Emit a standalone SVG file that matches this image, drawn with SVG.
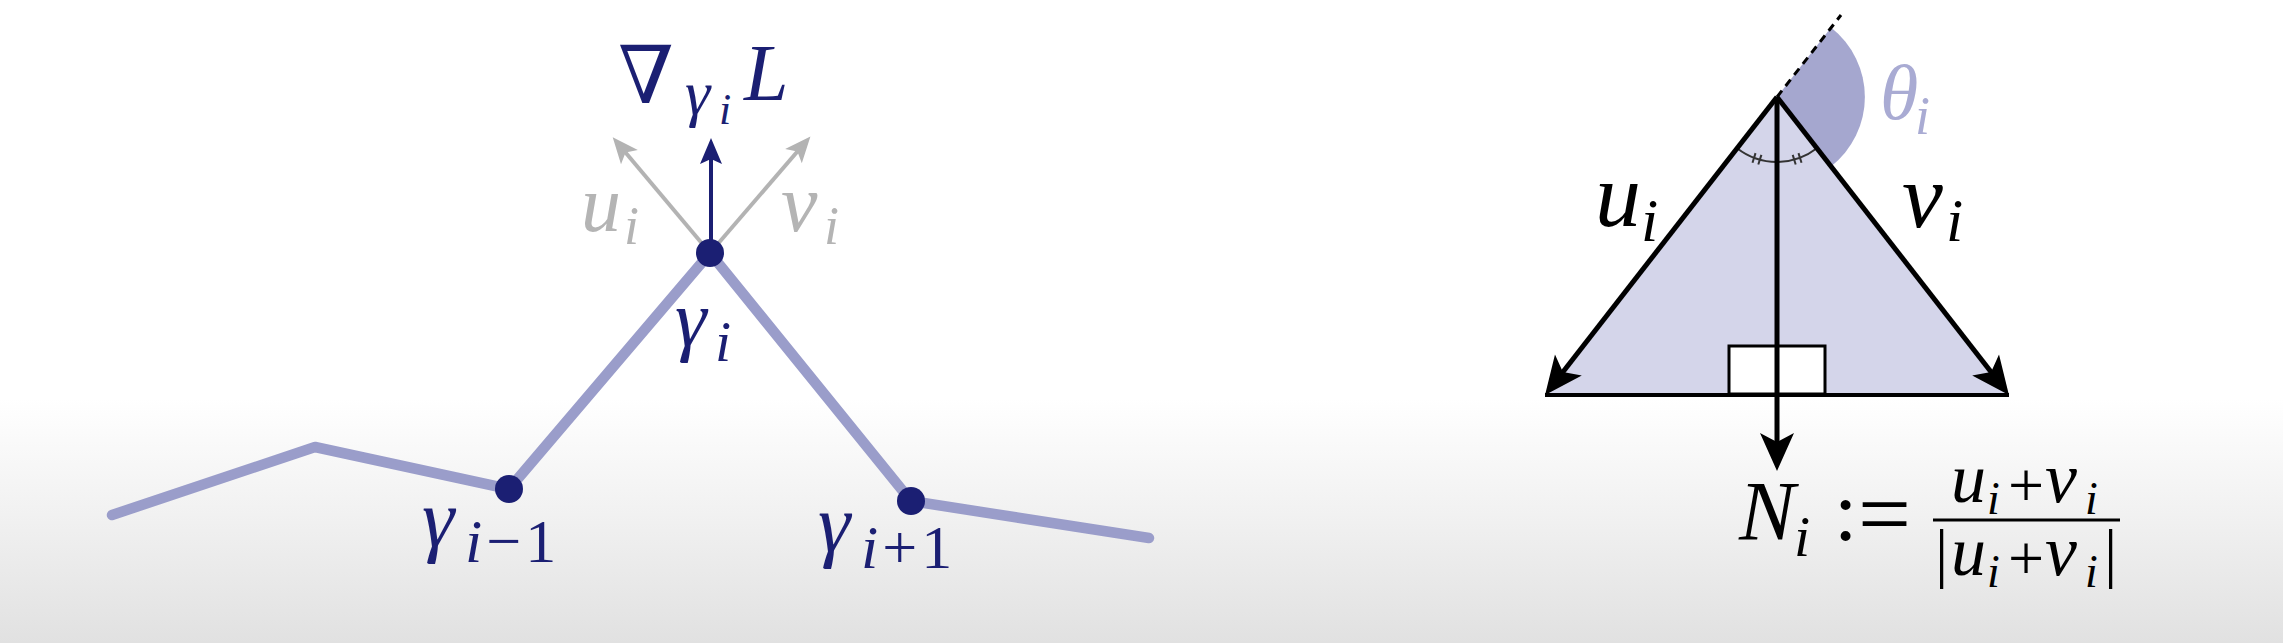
<svg xmlns="http://www.w3.org/2000/svg" width="2283" height="643" viewBox="0 0 2283 643">
<defs>
<linearGradient id="bg" x1="0" y1="0" x2="0" y2="1">
<stop offset="0" stop-color="#ffffff"/>
<stop offset="0.62" stop-color="#ffffff"/>
<stop offset="0.8" stop-color="#f1f1f1"/>
<stop offset="1" stop-color="#e1e1e1"/>
</linearGradient>
<marker id="arrBlue" markerUnits="userSpaceOnUse" orient="auto" refX="10" refY="0" markerWidth="30" markerHeight="30" overflow="visible">
<path d="M0,-11 L26,0 L0,11 L5,0 Z" fill="#1b1f73"/>
</marker>
<marker id="arrGray" markerUnits="userSpaceOnUse" orient="auto" refX="10" refY="0" markerWidth="30" markerHeight="30" overflow="visible">
<path d="M0,-11 L26,0 L0,11 L6,0 Z" fill="#b3b3b3"/>
</marker>
<marker id="arrBlack" markerUnits="userSpaceOnUse" orient="auto" refX="14" refY="0" markerWidth="44" markerHeight="44" overflow="visible">
<path d="M0,-17 L38,0 L0,17 L9,0 Z" fill="#000000"/>
</marker>
</defs>
<style>
.math{font-family:"Liberation Serif","DejaVu Serif",serif;font-style:italic}
.up{font-family:"Liberation Serif","DejaVu Serif",serif;font-style:normal}
.navy{fill:#1b1f73}
.gray{fill:#b4b4b4}
.blk{fill:#000000}
.curve{fill:none;stroke:#9a9dca;stroke-width:10.5;stroke-linecap:round;stroke-linejoin:round}
.node{fill:#1b1f73}
.edge{stroke:#000;stroke-width:5;fill:none}
</style>

<rect id="background" x="0" y="0" width="2283" height="643" fill="url(#bg)"/>

<g id="connectors">
<path class="curve" d="M112,515 L315,447 L509,489 L710,253 L911,501 L1149,538"/>
<line x1="710" y1="253" x2="623" y2="149.5" stroke="#b3b3b3" stroke-width="4" marker-end="url(#arrGray)"/>
<line x1="710" y1="253" x2="800" y2="148.5" stroke="#b3b3b3" stroke-width="4" marker-end="url(#arrGray)"/>
<line x1="711" y1="253" x2="711" y2="154" stroke="#1b1f73" stroke-width="4" marker-end="url(#arrBlue)"/>
</g>

<g id="node-gamma-i-minus-1">
<circle class="node" cx="509" cy="489" r="14"/>
<text class="math navy" x="422" y="546" font-size="82">γ</text>
<text class="navy" x="465" y="562" font-size="62" letter-spacing="4"><tspan class="math">i</tspan><tspan class="up">−1</tspan></text>
</g>

<g id="node-gamma-i">
<circle class="node" cx="710" cy="253" r="14"/>
<text class="math navy" x="675" y="346" font-size="80">γ</text>
<text class="math navy" x="715" y="361" font-size="58">i</text>
</g>

<g id="node-gamma-i-plus-1">
<circle class="node" cx="911" cy="501" r="14"/>
<text class="math navy" x="818" y="551" font-size="82">γ</text>
<text class="navy" x="861" y="568" font-size="62" letter-spacing="4"><tspan class="math">i</tspan><tspan class="up">+1</tspan></text>
</g>

<g id="label-gradient">
<text class="navy" x="618" y="103" font-size="80" font-family="DejaVu Serif, serif">∇</text>
<text class="math navy" x="685" y="114" font-size="64">γ</text>
<text class="math navy" x="719" y="124" font-size="44">i</text>
<text class="math navy" x="744" y="100" font-size="80">L</text>
</g>

<g id="label-u-gray">
<text class="math gray" x="581" y="231" font-size="80">u</text>
<text class="math gray" x="624" y="244" font-size="54">i</text>
</g>
<g id="label-v-gray">
<text class="math gray" x="781" y="231" font-size="82">v</text>
<text class="math gray" x="824" y="244" font-size="54">i</text>
</g>

<g id="triangle-figure">
<polygon points="1777,97 1545,395 2009,395" fill="#d4d5ea"/>
<path d="M1777,97 L1831,27.6 A88,88 0 0 1 1831,166.4 Z" fill="#a5a7cf"/>
<line x1="1777" y1="97" x2="1841" y2="15" stroke="#000" stroke-width="3" stroke-dasharray="8,6"/>
<line x1="1545" y1="395" x2="2009" y2="395" stroke="#000" stroke-width="4"/>
<rect x="1729" y="346" width="96" height="48" fill="#ffffff" stroke="#000" stroke-width="3"/>
<path d="M1737.1,148.3 A65,65 0 0 0 1816.9,148.3" fill="none" stroke="#333" stroke-width="2"/>
<g stroke="#333" stroke-width="2">
<line x1="1755.5" y1="153.1" x2="1752.5" y2="162.7"/>
<line x1="1761.4" y1="154.9" x2="1758.3" y2="164.5"/>
<line x1="1792.7" y1="154.9" x2="1795.7" y2="164.5"/>
<line x1="1798.5" y1="153.1" x2="1801.5" y2="162.7"/>
</g>
<line class="edge" x1="1777" y1="97" x2="1559.8" y2="376.0" marker-end="url(#arrBlack)"/>
<line class="edge" x1="1777" y1="97" x2="1994.2" y2="376.0" marker-end="url(#arrBlack)"/>
<line class="edge" x1="1777" y1="97" x2="1777" y2="447" marker-end="url(#arrBlack)"/>
</g>

<g id="label-theta">
<text class="math" x="1880" y="119" font-size="78" fill="#a9abd3">θ</text>
<text class="math" x="1915" y="134" font-size="54" fill="#a9abd3">i</text>
</g>
<g id="label-u-black">
<text class="math blk" x="1595" y="226" font-size="92">u</text>
<text class="math blk" x="1641" y="241" font-size="62">i</text>
</g>
<g id="label-v-black">
<text class="math blk" x="1902" y="227" font-size="92">v</text>
<text class="math blk" x="1946" y="241" font-size="62">i</text>
</g>

<g id="label-normal">
<text class="math blk" x="1739" y="540" font-size="84">N</text>
<text class="math blk" x="1794" y="556" font-size="58">i</text>
<text class="up blk" x="1834" y="540" font-size="84">:</text>
<text class="up blk" x="1858" y="545" font-size="94">=</text>
<text class="math blk" x="1951" y="502" font-size="70">u</text>
<text class="math blk" x="1987" y="514" font-size="46">i</text>
<text class="up blk" x="2008" y="507" font-size="64">+</text>
<text class="math blk" x="2045" y="502" font-size="72">v</text>
<text class="math blk" x="2085" y="514" font-size="46">i</text>
<line x1="1933" y1="520" x2="2120" y2="520" stroke="#000" stroke-width="3"/>
<text class="up blk" x="1935" y="575" font-size="66">|</text>
<text class="math blk" x="1951" y="575" font-size="70">u</text>
<text class="math blk" x="1987" y="587" font-size="46">i</text>
<text class="up blk" x="2008" y="580" font-size="64">+</text>
<text class="math blk" x="2045" y="575" font-size="72">v</text>
<text class="math blk" x="2085" y="587" font-size="46">i</text>
<text class="up blk" x="2104" y="575" font-size="66">|</text>
</g>
</svg>
